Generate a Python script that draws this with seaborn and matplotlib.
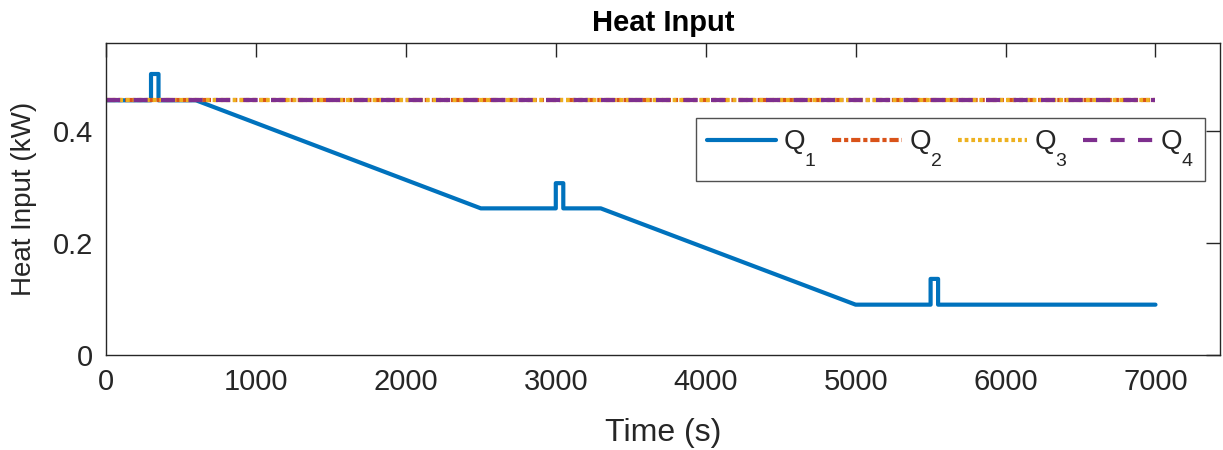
import matplotlib
matplotlib.use("Agg")
import matplotlib.pyplot as plt
import seaborn as sns
import pandas as pd

sns.set_theme(style="white")
plt.rcParams['font.family'] = ['Liberation Sans', 'DejaVu Sans']
plt.rcParams['mathtext.fontset'] = 'custom'
plt.rcParams['mathtext.rm'] = 'Liberation Sans'
plt.rcParams['mathtext.it'] = 'Liberation Sans'

# Deeper subscripts for the legend labels (TeX-style Q_1 look)
try:
    from matplotlib import _mathtext
    _mathtext.FontConstantsBase.sub1 = 1.15
except Exception:
    pass

# Heat input profiles (time in s, power in kW)
q1_time = [0, 300, 300, 350, 350, 600, 2500, 3000, 3000, 3050, 3050, 3300, 5000, 5500, 5500, 5550, 5550, 7000]
q1_heat = [0.455, 0.455, 0.502, 0.502, 0.455, 0.455, 0.262, 0.262, 0.307, 0.307, 0.262, 0.262, 0.090, 0.090, 0.136, 0.136, 0.090, 0.090]
const_time = [0, 7000]
q2_heat = [0.455, 0.455]
q3_heat = [0.455, 0.455]
q4_heat = [0.455, 0.455]

labels = [r"$\mathregular{Q_1}$", r"$\mathregular{Q_2}$", r"$\mathregular{Q_3}$", r"$\mathregular{Q_4}$"]
colors = ["#0072BD", "#D95319", "#EDB120", "#7E2F8E"]
styles = ["-", (0, (2.2, 0.7, 1.0, 0.7)), (0, (0.9, 0.7)), (0, (3.4, 3.2))]

series = [(q1_time, q1_heat), (const_time, q2_heat), (const_time, q3_heat), (const_time, q4_heat)]

fig = plt.figure(figsize=(12.23, 4.5), dpi=100)
ax = fig.add_axes([0.0867, 0.211, 0.9108, 0.693])

for (t, q), lab, col, ls in zip(series, labels, colors, styles):
    df = pd.DataFrame({"t": t, "q": q})
    sns.lineplot(data=df, x="t", y="q", ax=ax, color=col, linewidth=3.0,
                 linestyle=ls, label=lab, sort=False, estimator=None)

ax.set_xlim(0, 7430)
ax.set_ylim(0, 0.557)
ax.set_xticks([0, 1000, 2000, 3000, 4000, 5000, 6000, 7000])
ax.set_xticklabels(["0", "1000", "2000", "3000", "4000", "5000", "6000", "7000"])
ax.set_yticks([0, 0.2, 0.4])
ax.set_yticklabels(["0", "0.2", "0.4"])
ax.tick_params(axis="both", direction="in", length=10, width=1, color="#262626",
               labelsize=21, labelcolor="#262626", top=True, right=True, pad=9.5)
for s in ax.spines.values():
    s.set_color("#262626")
    s.set_linewidth(1)

ax.set_xlabel("Time (s)", fontsize=23, color="#262626", labelpad=16)
ax.set_ylabel("Heat Input (kW)", fontsize=20, color="#262626", labelpad=11)
ax.set_title("Heat Input", fontsize=21, fontweight="bold", color="black", pad=9)

leg = ax.legend(ncol=4, loc="upper right", bbox_to_anchor=(0.9865, 0.760),
                fontsize=20, frameon=True, fancybox=False, handlelength=2.5,
                handletextpad=0.25, columnspacing=0.55, borderpad=0.4, borderaxespad=0)
leg.get_frame().set_edgecolor("#262626")
leg.get_frame().set_linewidth(1)

fig.savefig("out.png", dpi=100)
